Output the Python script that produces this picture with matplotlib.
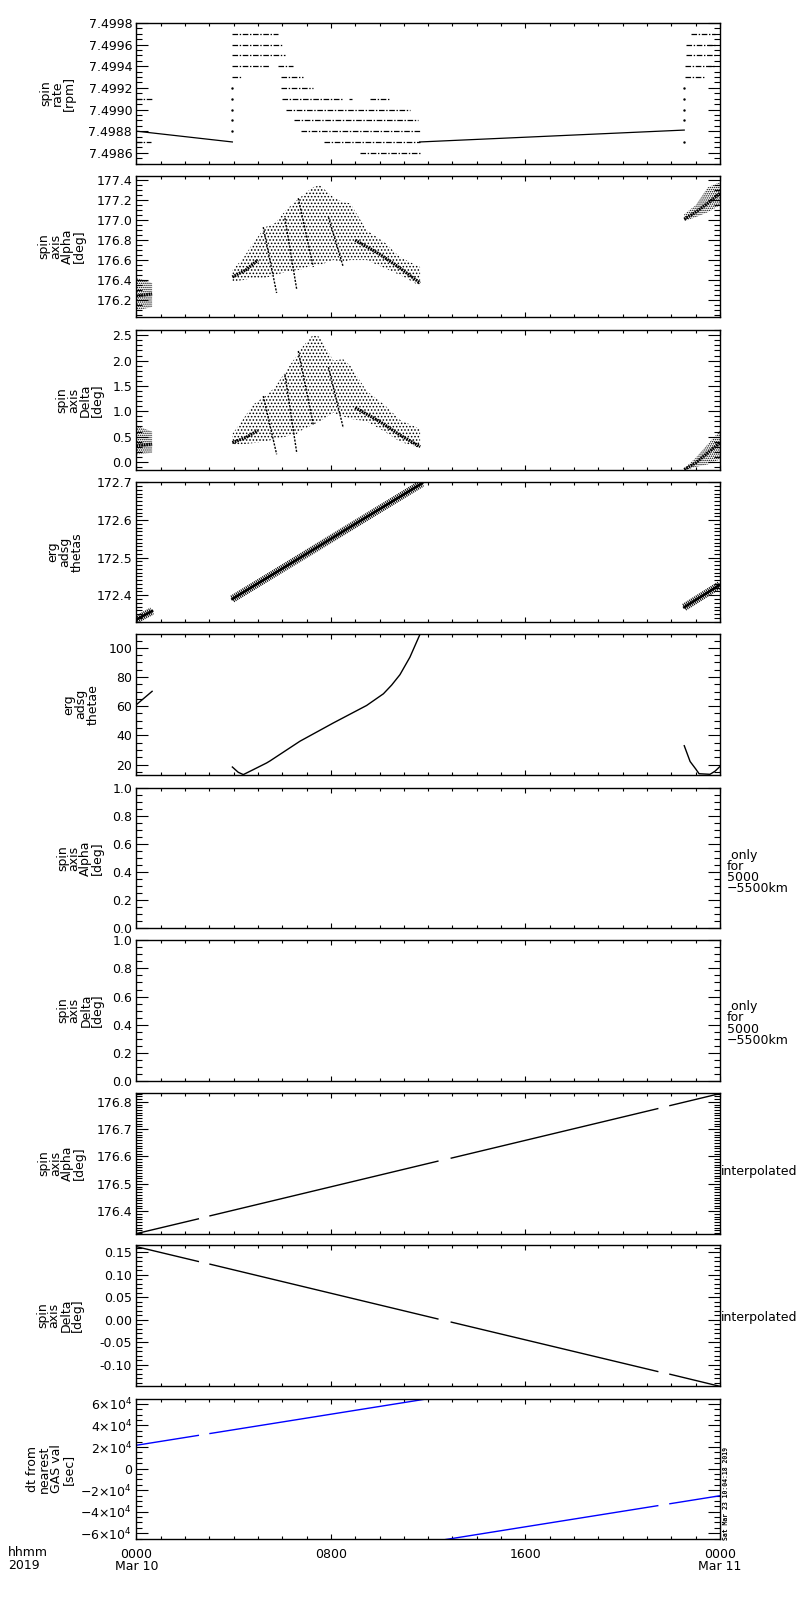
import matplotlib
matplotlib.use('Agg')
import matplotlib.pyplot as plt
from matplotlib.ticker import MultipleLocator, FixedLocator, FixedFormatter, FormatStrFormatter
import numpy as np

plt.rcParams['font.family'] = ['DejaVu Sans']
plt.rcParams['hatch.linewidth'] = 0.7
plt.rcParams['lines.scale_dashes'] = False
nan = np.nan

# ---------------- data (hours since 2019-03-10 00:00) ----------------
# Panel 1: spin rate [rpm]
rate_line_t = [0.0, 3.95, nan, 11.65, 22.53]
rate_line_v = [7.49880, 7.49870, nan, 7.49870, 7.49881]
rate_run_level = [7.4991, 7.4987, 7.4997, 7.4996, 7.4995, 7.4994, 7.4994, 7.4993, 7.4993,
                  7.4992, 7.4991, 7.4991, 7.4991, 7.4990, 7.4989, 7.4988, 7.4987, 7.4986,
                  7.4997, 7.4996, 7.4995, 7.4994, 7.4993]
rate_run_start = [0.0, 0.0, 3.95, 3.95, 3.95, 3.95, 5.82, 3.95, 5.93,
                  5.93, 6.0, 8.76, 9.6, 6.14, 6.48, 6.78, 7.73, 9.2,
                  22.8, 22.6, 22.6, 22.55, 22.55]
rate_run_end = [0.66, 0.62, 5.82, 6.0, 6.12, 5.48, 6.43, 4.3, 6.87,
                7.28, 8.5, 8.85, 10.4, 11.26, 11.6, 11.66, 11.65, 11.65,
                23.8, 23.8, 23.8, 23.8, 23.4]
rate_dot_t = [3.95, 3.95, 3.95, 3.95, 3.95, 22.53, 22.53, 22.53, 22.53, 22.53]
rate_dot_v = [7.4992, 7.4991, 7.4990, 7.4989, 7.4988, 7.4992, 7.4991, 7.4990, 7.4989, 7.4987]

# Panel 2: spin axis Alpha [deg] (scatter cloud envelopes, dense cores, streaks)
alpha_env_t = [3.95, 4.4, 4.8, 5.3, 5.7, 6.15, 6.6, 6.7, 7.25, 7.55, 8.1, 8.5, 8.8, 9.47, 10.2, 10.84, 11.67]
alpha_env_hi = [176.50, 176.62, 176.77, 176.93, 176.97, 177.10, 177.20, 177.22, 177.33, 177.35,
                177.23, 177.18, 177.17, 176.90, 176.78, 176.63, 176.53]
alpha_env_lo = [176.38, 176.40, 176.42, 176.42, 176.45, 176.48, 176.50, 176.50, 176.55, 176.55,
                176.60, 176.58, 176.60, 176.60, 176.52, 176.45, 176.34]
alpha_left_t = [0.0, 0.3, 0.65]
alpha_left_lo = [176.10, 176.11, 176.13]
alpha_left_hi = [176.42, 176.40, 176.37]
alpha_right_t = [22.53, 23.0, 23.5, 24.0]
alpha_right_lo = [176.99, 177.03, 177.08, 177.15]
alpha_right_hi = [177.06, 177.15, 177.33, 177.38]
alpha_core_t = [3.95, 4.5, 5.0, nan, 9.0, 10.0, 10.84, 11.67, nan, 22.53, 23.0, 23.5, 24.0, nan, 0.0, 0.65]
alpha_core_v = [176.43, 176.50, 176.60, nan, 176.80, 176.66, 176.52, 176.37, nan,
                177.01, 177.08, 177.17, 177.27, nan, 176.24, 176.26]
alpha_streak_t0 = [5.22, 6.11, 6.66, 7.90]
alpha_streak_v0 = [176.93, 177.02, 177.22, 177.03]
alpha_streak_t1 = [5.77, 6.60, 7.28, 8.51]
alpha_streak_v1 = [176.27, 176.30, 176.53, 176.53]

# Panel 3: spin axis Delta [deg]
delta_env_hi = [0.55, 0.85, 1.13, 1.30, 1.47, 1.80, 2.10, 2.20, 2.50, 2.47, 2.00, 2.03, 1.90, 1.40, 1.13, 0.83, 0.65]
delta_env_lo = [0.33, 0.35, 0.37, 0.40, 0.45, 0.50, 0.55, 0.60, 0.73, 0.80, 0.97, 0.90, 0.85, 0.80, 0.60, 0.40, 0.27]
delta_left_lo = [0.15, 0.16, 0.18]
delta_left_hi = [0.72, 0.66, 0.60]
delta_right_lo = [-0.17, -0.10, -0.05, 0.05]
delta_right_hi = [-0.13, 0.08, 0.35, 0.62]
delta_core_v = [0.38, 0.48, 0.62, nan, 1.07, 0.80, 0.53, 0.30, nan,
                -0.15, -0.02, 0.18, 0.38, nan, 0.32, 0.35]
delta_streak_v0 = [1.30, 1.73, 2.19, 1.87]
delta_streak_v1 = [0.15, 0.17, 0.73, 0.67]

# Panel 4: erg adsg thetas
thetas_t = [0.0, 0.65, nan, 3.95, 11.75, nan, 22.53, 24.0]
thetas_v = [172.335, 172.358, nan, 172.390, 172.698, nan, 172.368, 172.428]

# Panel 5: erg adsg thetae
thetae_t = [0.0, 0.65, nan,
            3.95, 4.19, 4.40, 4.81, 5.36, 5.50, 6.73, 8.10, 9.47, 10.16, 10.50, 10.84, 11.25, 11.67, nan,
            22.53, 22.77, 23.00, 23.14, 23.59, 23.80, 24.0]
thetae_v = [61.0, 70.2, nan,
            18.3, 14.7, 13.1, 16.5, 21.1, 22.5, 36.0, 48.5, 60.5, 68.5, 74.5, 81.6, 93.6, 109.5, nan,
            32.9, 22.1, 17.0, 13.7, 13.3, 15.5, 18.7]

# Panel 8: interpolated Alpha; Panel 9: interpolated Delta; Panel 10: dt
interp_t = [0.0, 2.55, nan, 3.03, 12.40, nan, 12.95, 21.44, nan, 21.94, 24.0]
alpha_interp_v = [176.318, 176.372, nan, 176.383, 176.583, nan, 176.594, 176.775, nan, 176.786, 176.830]
delta_interp_v = [0.163, 0.130, nan, 0.124, 0.002, nan, -0.005, -0.115, nan, -0.121, -0.148]
dt_t = [0.0, 2.55, nan, 3.03, 12.5, nan, 12.5, 21.44, nan, 21.94, 24.0]
dt_v = [21600, 30780, nan, 32508, 66600, nan, -66600, -34416, nan, -32616, -25200]

ylabels = ['spin\nrate\n[rpm]', 'spin\naxis\nAlpha\n[deg]', 'spin\naxis\nDelta\n[deg]',
           'erg\nadsg\nthetas', 'erg\nadsg\nthetae', 'spin\naxis\nAlpha\n[deg]',
           'spin\naxis\nDelta\n[deg]', 'spin\naxis\nAlpha\n[deg]', 'spin\naxis\nDelta\n[deg]',
           'dt from\nnearest\nGAS val\n[sec]']
xtick_pos = [0, 8, 16, 24]
xtick_lab = ['0000\nMar 10', '0800', '1600', '0000\nMar 11']
dt_tick_vals = [-60000, -40000, -20000, 0, 20000, 40000, 60000]
dt_tick_lab = [r'$-6{\times}10^4$', r'$-4{\times}10^4$', r'$-2{\times}10^4$', '0',
               r'$2{\times}10^4$', r'$4{\times}10^4$', r'$6{\times}10^4$']

# ---------------- layout ----------------
W, H = 800, 1600
fig = plt.figure(figsize=(8, 16), dpi=100)
L, R = 136.3, 720.0
tops = [23.0, 176.3, 329.7, 481.7, 634.0, 787.7, 940.3, 1093.3, 1245.3, 1398.7]
PH = 140.6
ylims = [(7.49850, 7.49980), (176.03, 177.44), (-0.166, 2.61), (172.328, 172.702), (13.1, 109.5),
         (0.0, 1.0), (0.0, 1.0), (176.317, 176.831), (-0.147, 0.166), (-65600, 64800)]
ymaj = [0.0002, 0.2, 0.5, 0.1, 20, 0.2, 0.2, 0.1, 0.05, None]
ymin_ = [0.00005, 0.05, 0.1, 0.01, 5, 0.05, 0.05, 0.01, 0.01, 5000]
yfmt = ['%.4f', '%.1f', '%.1f', '%.1f', '%d', '%.1f', '%.1f', '%.1f', '%.2f', None]
label_x = [57.5, 61.5, 79.5, 65, 81, 80, 80, 61.5, 60, 50.5]

axes = []
for i in range(10):
    ax = fig.add_axes([L / W, 1 - (tops[i] + PH) / H, (R - L) / W, PH / H])
    ax.set_xlim(0, 24)
    ax.set_ylim(*ylims[i])
    ax.xaxis.set_major_locator(FixedLocator(xtick_pos))
    ax.xaxis.set_minor_locator(MultipleLocator(1))
    if ymaj[i] is not None:
        ax.yaxis.set_major_locator(MultipleLocator(ymaj[i]))
        ax.yaxis.set_major_formatter(FormatStrFormatter(yfmt[i]))
    else:
        ax.yaxis.set_major_locator(FixedLocator(dt_tick_vals))
        ax.yaxis.set_major_formatter(FixedFormatter(dt_tick_lab))
    ax.yaxis.set_minor_locator(MultipleLocator(ymin_[i]))
    ax.tick_params(which='both', direction='in', top=True, right=True, width=0.8,
                   labelsize=9, pad=3)
    ax.tick_params(axis='y', which='major', length=8.6)
    ax.tick_params(axis='y', which='minor', length=4.3)
    ax.tick_params(axis='x', which='major', length=3.6)
    ax.tick_params(axis='x', which='minor', length=2.2)
    for s in ax.spines.values():
        s.set_linewidth(1.0)
    if i < 9:
        ax.set_xticklabels([])
    else:
        ax.set_xticklabels(xtick_lab, linespacing=0.95)
        ax.tick_params(axis='x', which='major', pad=6)
    fig.text(label_x[i] / W, 1 - (tops[i] + PH / 2) / H, ylabels[i], rotation=90,
             ha='center', va='center', fontsize=9, linespacing=0.88)
    axes.append(ax)

# Panel 1
ax = axes[0]
ax.plot(rate_line_t, rate_line_v, color='k', lw=0.9)
for lev, t0, t1 in zip(rate_run_level, rate_run_start, rate_run_end):
    ax.plot([t0, t1], [lev, lev], color='k', lw=0.9, dashes=(4, 1.2, 1, 1.2))
ax.plot(rate_dot_t, rate_dot_v, 'k.', ms=1.5, ls='none')

# Panels 2, 3
def cloud(ax, t, lo, hi, hatch):
    ax.fill_between(t, lo, hi, facecolor='none', edgecolor='k', hatch=hatch, linewidth=0)

def scatter_panel(ax, env_lo, env_hi, left_lo, left_hi, right_lo, right_hi, core_v, s_v0, s_v1):
    cloud(ax, alpha_env_t, env_lo, env_hi, '.....')
    cloud(ax, alpha_left_t, left_lo, left_hi, '........')
    cloud(ax, alpha_right_t, right_lo, right_hi, '........')
    ax.plot(alpha_core_t, core_v, color='k', lw=2.2, dashes=(1.2, 0.6))
    for t0, v0, t1, v1 in zip(alpha_streak_t0, s_v0, alpha_streak_t1, s_v1):
        ax.plot([t0, t1], [v0, v1], color='k', lw=1.0, dashes=(1.5, 1.0))

scatter_panel(axes[1], alpha_env_lo, alpha_env_hi, alpha_left_lo, alpha_left_hi,
              alpha_right_lo, alpha_right_hi, alpha_core_v, alpha_streak_v0, alpha_streak_v1)
scatter_panel(axes[2], delta_env_lo, delta_env_hi, delta_left_lo, delta_left_hi,
              delta_right_lo, delta_right_hi, delta_core_v, delta_streak_v0, delta_streak_v1)

# Panel 4
axes[3].plot(thetas_t, thetas_v, color='k', lw=5.5, dashes=(0.7, 0.7), solid_capstyle='butt')
axes[3].plot(thetas_t, thetas_v, color='k', lw=1.8)

# Panel 5
axes[4].plot(thetae_t, thetae_v, color='k', lw=1.0)

# Panels 8-10
axes[7].plot(interp_t, alpha_interp_v, color='k', lw=1.0)
axes[8].plot(interp_t, delta_interp_v, color='k', lw=1.0)
axes[9].plot(dt_t, dt_v, color='#0000ff', lw=1.0)

# Right-hand notes
for i, dy in ((5, 14), (6, 13)):
    fig.text(727 / W, 1 - (tops[i] + PH / 2 + dy) / H, ' only\nfor\n5000\n\u22125500km',
             ha='left', va='center', fontsize=9, linespacing=0.82)
for i, yc in ((7, 1171.7), (8, 1318.0)):
    fig.text(721 / W, 1 - yc / H, 'interpolated', ha='left', va='center', fontsize=9)

fig.text(8 / W, 1 - 1559 / H, 'hhmm\n2019', ha='left', va='center', fontsize=9, linespacing=0.95)
fig.text(725.5 / W, 1 - 1539.5 / H, 'Sat Mar 23 10:04:18 2019', rotation=90, ha='center', va='bottom',
         fontsize=4.7, family='DejaVu Sans Mono', weight='bold')

fig.savefig('out.png', dpi=100)
